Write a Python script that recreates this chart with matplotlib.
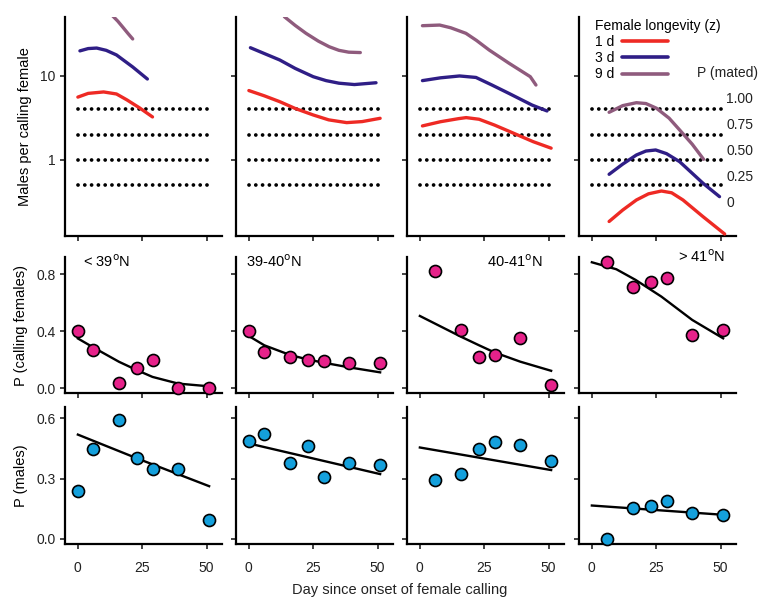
import numpy as np
import matplotlib
matplotlib.use('Agg')
import matplotlib.pyplot as plt
from matplotlib.lines import Line2D

plt.rcParams['font.family'] = ['Liberation Sans', 'DejaVu Sans']
plt.rcParams['font.size'] = 10

# --- donnees ---------------------------------------------------------------
regions = [r'< 39$^{\mathrm{o}}$N', r'39-40$^{\mathrm{o}}$N',
           r'40-41$^{\mathrm{o}}$N', r'> 41$^{\mathrm{o}}$N']
days = [0, 6, 16, 23, 29, 39, 51]
nan = np.nan

# P (calling females), points
calling_1 = [0.40, 0.27, 0.035, 0.14, 0.20, 0.0, 0.0]
calling_2 = [0.40, 0.25, 0.218, 0.199, 0.19, 0.178, 0.173]
calling_3 = [nan, 0.824, 0.407, 0.22, 0.232, 0.349, 0.019]
calling_4 = [nan, 0.885, 0.707, 0.747, 0.77, 0.375, 0.407]

# P (calling females), courbes ajustees
fit_call_x = [[0, 6, 16, 23, 29, 39, 51],
              [0, 6, 16, 23, 29, 39, 51],
              [0, 16, 23, 29, 39, 51],
              [0, 9.5, 17, 27, 39, 51]]
fit_call_y = [[0.348, 0.285, 0.184, 0.125, 0.078, 0.031, 0.012],
              [0.365, 0.30, 0.232, 0.20, 0.178, 0.145, 0.11],
              [0.506, 0.36, 0.30, 0.25, 0.185, 0.121],
              [0.883, 0.834, 0.759, 0.642, 0.478, 0.349]]

# P (males), points
males_1 = [0.238, 0.446, 0.592, 0.40, 0.347, 0.347, 0.095]
males_2 = [0.487, 0.52, 0.375, 0.46, 0.306, 0.378, 0.367]
males_3 = [nan, 0.293, 0.322, 0.446, 0.479, 0.465, 0.387]
males_4 = [nan, 0.0, 0.156, 0.166, 0.189, 0.128, 0.118]

# P (males), droites ajustees
fit_males_x = [[0, 23, 51], [0, 51], [0, 51], [0, 51]]
fit_males_y = [[0.518, 0.40, 0.262], [0.474, 0.322], [0.454, 0.342], [0.166, 0.12]]

# males par femelle (panneaux 1-3), longevite 1 d, 3 d, 9 d
mpf_1d_x = [[0, 4, 10, 15, 19, 24, 29],
            [0, 6, 12, 18, 25, 31, 38, 44, 51],
            [1, 8, 15, 18, 23, 29, 35, 44, 51]]
mpf_1d_y = [[5.6, 6.2, 6.45, 6.1, 5.2, 4.16, 3.25],
            [6.7, 5.8, 4.94, 4.1, 3.43, 3.0, 2.78, 2.86, 3.13],
            [2.54, 2.85, 3.1, 3.19, 3.05, 2.6, 2.17, 1.65, 1.38]]
mpf_3d_x = [[0.8, 4, 7.3, 11, 15, 21.3, 27],
            [0.6, 6, 12, 18, 25, 30, 35, 41, 49.4],
            [1, 8, 15.4, 21.8, 28, 34.6, 43.6, 49.4]]
mpf_3d_y = [[19.9, 21.2, 21.5, 20.2, 17.8, 12.8, 9.2],
            [21.7, 18.5, 15.5, 12.3, 9.8, 8.8, 8.2, 7.9, 8.3],
            [8.8, 9.5, 10.0, 9.6, 7.8, 6.2, 4.5, 3.83]]
mpf_9d_x = [[13.5, 15.5, 17.5, 19.5, 21.3],
            [13.8, 18, 22.2, 27, 31.2, 35, 38.8, 43.3],
            [1, 7.7, 12, 17.9, 22, 26.9, 34.6, 42.9, 45.1]]
mpf_9d_y = [[52, 45, 38, 32, 27.6],
            [50.8, 40, 32.2, 26, 22.3, 20.2, 19.2, 19.0],
            [39.7, 40.4, 37.5, 32.2, 26.5, 20.4, 14.2, 9.8, 7.8]]

# P (mated), panneau 4
pm_x = [[6.7, 12, 17.3, 22, 27, 31, 35.4, 43.2, 51.6],
        [6.7, 12, 17.3, 21, 24.8, 29, 34.1, 43.2, 49.6],
        [6.7, 12, 17.3, 21, 25.1, 30, 34.1, 39, 43.4]]
pm_y = [[-0.19, -0.08, 0.016, 0.075, 0.102, 0.085, 0.016, -0.144, -0.31],
        [0.262, 0.36, 0.447, 0.485, 0.495, 0.46, 0.383, 0.176, 0.048],
        [0.856, 0.92, 0.948, 0.94, 0.895, 0.80, 0.687, 0.55, 0.406]]

seuils = [4, 2, 1, 0.5]          # lignes pointillees
p_mated_ticks = [0, 0.25, 0.5, 0.75, 1.0]
p_mated_labels = ['0', '0.25', '0.50', '0.75', '1.00']
longevites = ['1 d', '3 d', '9 d']

coul_long = ['#ee2a24', '#2f1e86', '#8f5b7d']
coul_call = '#e6228a'
coul_male = '#14a0dc'

calling = [calling_1, calling_2, calling_3, calling_4]
males = [males_1, males_2, males_3, males_4]
mpf_x = [mpf_1d_x, mpf_3d_x, mpf_9d_x]
mpf_y = [mpf_1d_y, mpf_3d_y, mpf_9d_y]

# --- figure ----------------------------------------------------------------
W, H = 772, 606
fig = plt.figure(figsize=(W / 100, H / 100), dpi=100)
lefts = [65, 236, 407, 579]
largeur = 157
rangees = [(17, 236), (257, 393), (407, 544)]


def ajoute_axe(col, row):
    x0 = lefts[col]
    y0, y1 = rangees[row]
    ax = fig.add_axes([x0 / W, 1 - y1 / H, largeur / W, (y1 - y0) / H])
    for s in ['top', 'right']:
        ax.spines[s].set_visible(False)
    for s in ['left', 'bottom']:
        ax.spines[s].set_linewidth(1.6)
    ax.tick_params(direction='out', length=3.5, width=1.1, colors='#111111',
                   labelcolor='#222222', labelsize=10)
    ax.set_xlim(-5, 56)
    ax.set_xticks([0, 25, 50])
    ax.patch.set_alpha(0)
    return ax


for col in range(4):
    # rangee 1 : males par femelle
    ax = ajoute_axe(col, 0)
    ax.set_yscale('log')
    ax.set_ylim(0.124, 50.4)
    ax.set_yticks([1, 10])
    ax.set_yticklabels(['1', '10'])
    ax.yaxis.set_minor_locator(matplotlib.ticker.NullLocator())
    ax.set_xticklabels([])
    for s in seuils:
        ax.plot([0, 51], [s, s], color='black', lw=2.7,
                linestyle=(0, (0.01, 1.8)), dash_capstyle='round')
    if col < 3:
        for k in range(3):
            ax.plot(mpf_x[k][col], mpf_y[k][col], color=coul_long[k], lw=2.4,
                    solid_capstyle='round', clip_on=True)
    else:
        ax2 = ax.twinx()
        ax2.set_ylim(-0.329, 1.769)
        for s in ax2.spines.values():
            s.set_visible(False)
        for k in range(3):
            ax2.plot(pm_x[k], pm_y[k], color=coul_long[k], lw=2.4,
                     solid_capstyle='round')
        ax2.set_yticks(p_mated_ticks)
        ax2.set_yticklabels(p_mated_labels)
        ax2.tick_params(axis='y', length=0, pad=-7, labelsize=10,
                        labelcolor='#222222')
        for t in ax2.get_yticklabels():
            t.set_horizontalalignment('left')
        handles = [Line2D([], [], color=c, lw=2.6, solid_capstyle='round')
                   for c in coul_long]
        leg = ax.legend(handles, longevites, title='Female longevity (z)',
                        loc='upper left', bbox_to_anchor=(0.06, 1.022),
                        frameon=False, markerfirst=False, handlelength=3.3,
                        handletextpad=0.5, labelspacing=0.15, borderpad=0,
                        alignment='left', fontsize=10, title_fontsize=10)
        fig.text(697 / W, 1 - 73 / H, 'P (mated)', fontsize=10,
                 va='center', ha='left', color='#222222')
    if col > 0:
        ax.set_yticklabels([])
    else:
        ax.set_ylabel('Males per calling female', fontsize=10.5, labelpad=6)

    # rangee 2 : P (calling females)
    ax = ajoute_axe(col, 1)
    ax.set_ylim(-0.035, 0.92)
    ax.set_yticks([0.0, 0.4, 0.8])
    ax.set_xticklabels([])
    ax.plot(fit_call_x[col], fit_call_y[col], color='black', lw=1.7, zorder=2)
    ax.scatter(days, calling[col], s=75, color=coul_call, edgecolor='black',
               linewidth=1.2, zorder=3, clip_on=False)
    if col > 0:
        ax.set_yticklabels([])
    else:
        ax.set_yticklabels(['0.0', '0.4', '0.8'])
        ax.set_ylabel('P (calling females)', fontsize=10.5, labelpad=6)
    if col == 0:
        ax.text(2, 0.885, regions[col], fontsize=10.5, ha='left', va='center')
    elif col == 1:
        ax.text(-1, 0.885, regions[col], fontsize=10.5, ha='left', va='center')
    elif col == 2:
        ax.text(26, 0.885, regions[col], fontsize=10.5, ha='left', va='center')
    else:
        ax.text(33.5, 0.925, regions[col], fontsize=10.5, ha='left', va='center')

    # rangee 3 : P (males)
    ax = ajoute_axe(col, 2)
    ax.set_ylim(-0.025, 0.655)
    ax.set_yticks([0.0, 0.3, 0.6])
    ax.plot(fit_males_x[col], fit_males_y[col], color='black', lw=1.7, zorder=2)
    ax.scatter(days, males[col], s=75, color=coul_male, edgecolor='black',
               linewidth=1.2, zorder=3, clip_on=False)
    ax.tick_params(axis='x', pad=9)
    if col > 0:
        ax.set_yticklabels([])
    else:
        ax.set_yticklabels(['0.0', '0.3', '0.6'])
        ax.set_ylabel('P (males)', fontsize=10.5, labelpad=6)

fig.text(400 / W, 1 - 590 / H, 'Day since onset of female calling',
         fontsize=10.5, ha='center', va='center', color='#222222')

fig.savefig('out.png', dpi=100)
